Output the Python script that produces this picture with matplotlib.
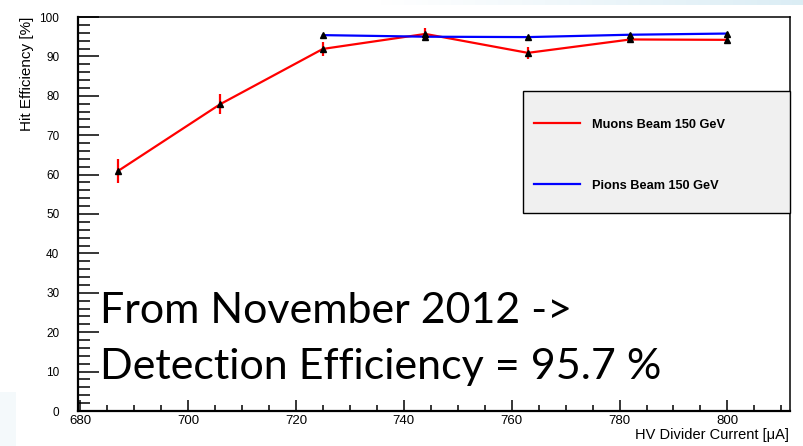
import numpy as np
import matplotlib
matplotlib.use("Agg")
import matplotlib.pyplot as plt
from matplotlib.patches import Rectangle
from matplotlib.ticker import MultipleLocator

# HV divider current [uA] and hit efficiency [%]
muon_current = [687, 706, 725, 744, 763, 782, 800]
muon_eff = [60.9, 77.9, 91.9, 95.7, 90.9, 94.3, 94.2]
muon_err = [3.0, 2.5, 1.8, 1.5, 1.5, 1.0, 1.0]

pion_current = [725, 744, 763, 782, 800]
pion_eff = [95.4, 95.0, 94.9, 95.5, 95.8]
pion_err = [0.4, 0.5, 0.4, 0.5, 0.5]

muon_label = "Muons Beam 150 GeV"
pion_label = "Pions Beam 150 GeV"
x_title = "HV Divider Current [\u03bcA]"
y_title = "Hit Efficiency [%]"
note_lines = ["From November 2012 ->", "Detection Efficiency = 95.7 %"]

W, H = 804, 446
fig = plt.figure(figsize=(W / 100, H / 100), dpi=100)
fig.patch.set_facecolor("white")


def fx(px):
    return px / W


def fy(py):
    return 1 - py / H


# faint slide background: blue strip at the top right and corner at bottom left
bg = fig.add_axes([0, 0, 1, 1], zorder=-10)
bg.set_axis_off()
img = np.ones((H, W, 3))
tint = np.array([0.86, 0.93, 0.96])
xs = np.arange(W)
top_w = np.clip((xs - 380) / 420.0, 0, 1)[None, :] * np.ones((5, 1))
img[:5] = img[:5] * (1 - top_w[..., None]) + tint * top_w[..., None]
corner = np.zeros((H, W))
corner[392:, :16] = 0.3
img = img * (1 - corner[..., None]) + tint * corner[..., None]
bg.imshow(img, extent=(0, 1, 0, 1), aspect="auto")
bg.set_xlim(0, 1)
bg.set_ylim(0, 1)

ax = fig.add_axes([fx(78), fy(411), fx(790) - fx(78), fy(17) - fy(411)])
ax.set_facecolor("none")
ax.set_xlim(679.6, 811.6)
ax.set_ylim(0, 100)

ax.errorbar(muon_current, muon_eff, yerr=muon_err, fmt="none", ecolor="#ff0000",
            elinewidth=1.6, capsize=0, zorder=3)
ax.errorbar(pion_current, pion_eff, yerr=pion_err, fmt="none", ecolor="black",
            elinewidth=1.0, capsize=0, zorder=3)
ax.plot(muon_current, muon_eff, color="#ff0000", lw=1.6, zorder=4, label=muon_label)
ax.plot(pion_current, pion_eff, color="#0000ff", lw=1.6, zorder=4, label=pion_label)
ax.plot(muon_current, muon_eff, ls="none", marker="^", ms=4, color="black", zorder=5)
ax.plot(pion_current, pion_eff, ls="none", marker="^", ms=4, color="black", zorder=5)

for s in ax.spines.values():
    s.set_linewidth(1.1)
ax.spines["left"].set_linewidth(1.6)
ax.spines["bottom"].set_linewidth(1.6)

ax.xaxis.set_major_locator(MultipleLocator(20))
ax.xaxis.set_minor_locator(MultipleLocator(5))
ax.yaxis.set_major_locator(MultipleLocator(10))
ax.yaxis.set_minor_locator(MultipleLocator(2))
ax.tick_params(axis="both", which="both", direction="in", top=False, right=False, width=1.1)
ax.tick_params(axis="y", which="major", length=15, pad=13.5, labelsize=8.5)
ax.tick_params(axis="y", which="minor", length=8.5)
ax.tick_params(axis="x", which="major", length=8, pad=3.0, labelsize=9.5)
ax.tick_params(axis="x", which="minor", length=4)
for lab in ax.get_xticklabels() + ax.get_yticklabels():
    lab.set_family("Liberation Sans")

fig.text(fx(27), fy(17), y_title, rotation=90, ha="center", va="top",
         fontsize=11, family="Liberation Sans")
fig.text(fx(789), fy(435), x_title, ha="right", va="center",
         fontsize=10.5, family="Liberation Sans")

# legend box
box = Rectangle((fx(523), fy(213)), fx(790) - fx(523), fy(91) - fy(213),
                transform=fig.transFigure, facecolor="#f0f0f0", edgecolor="black",
                lw=1.0, zorder=6, clip_on=False)
ax.add_patch(box)
leg = ax.legend(loc="upper left", bbox_to_anchor=(fx(523), fy(107)),
                bbox_transform=fig.transFigure, frameon=False,
                prop={"family": "Liberation Sans", "weight": "bold", "size": 9.2},
                handlelength=3.6, handletextpad=0.9, labelspacing=3.85,
                borderpad=0, borderaxespad=0.9)
leg.set_zorder(7)

for i, line in enumerate(note_lines):
    fig.text(fx(100), fy(323 + 56 * i), line, ha="left", va="baseline",
             fontsize=31, family="Lato", color="black", zorder=8)

fig.savefig("out.png", dpi=100)
